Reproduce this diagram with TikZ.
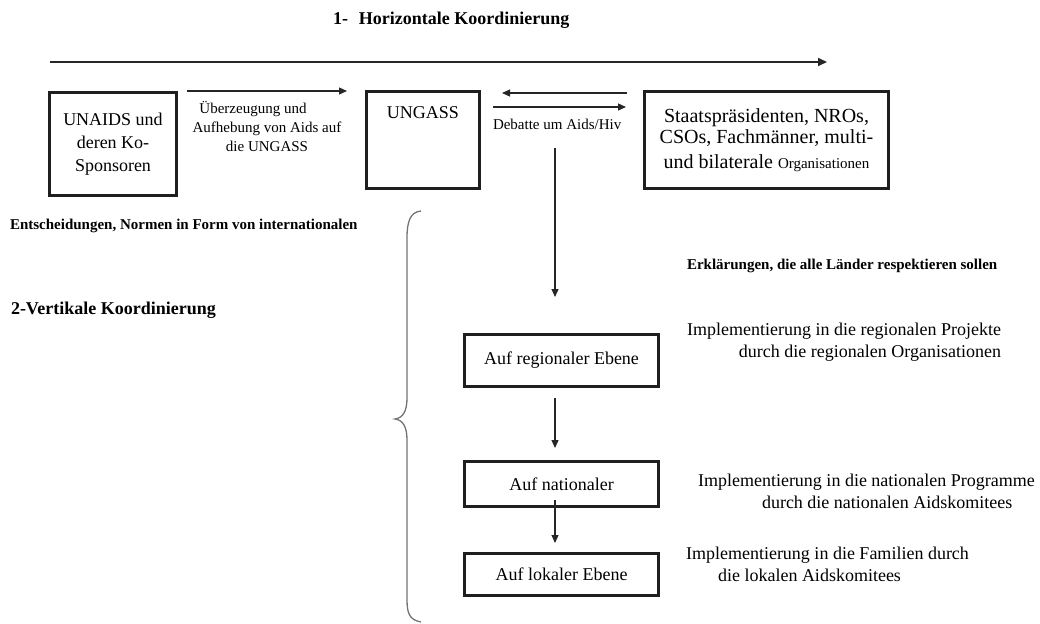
\documentclass[tikz,border=0pt]{standalone}
\usepackage{fontspec}
\setmainfont{Liberation Serif}
\usetikzlibrary{arrows.meta}
\begin{document}
\begin{tikzpicture}[x=1pt,y=-1pt,
  box/.style={draw=black!88, line width=3.7pt, inner sep=0pt, outer sep=0pt, align=center,
    font=\fontsize{18}{23}\selectfont},
  lbox/.style={draw=black!88, line width=3.4pt, inner sep=0pt, outer sep=0pt,
    minimum width=194pt, font=\fontsize{18}{22}\selectfont},
  arr/.style={-{Triangle[length=8pt,width=7pt]}, line width=1.2pt, draw=black!85},
  bigarr/.style={-{Triangle[length=9pt,width=8pt]}, line width=1.6pt, draw=black!85},
  txt/.style={inner sep=0pt, outer sep=0pt, font=\fontsize{18}{22}\selectfont},
  smalltxt/.style={inner sep=0pt, outer sep=0pt, font=\fontsize{15}{19}\selectfont},
  head/.style={inner sep=0pt, outer sep=0pt, font=\bfseries\fontsize{18}{22}\selectfont},
  subhead/.style={inner sep=0pt, outer sep=0pt, font=\bfseries\fontsize{15}{19}\selectfont},
  brace/.style={draw=black!55, line width=1.3pt}
]
\useasboundingbox (0,0) rectangle (1040,623);

% title and long arrow
\node[head, anchor=west] (title) at (333,20) {1-\hspace{0.6em}Horizontale Koordinierung};
\coordinate (lstart) at (50,62);
\coordinate (lend) at (827,62);
\draw[bigarr] (lstart) -- (lend);

% top boxes
\node[box, minimum width=127pt, minimum height=103pt] (una) at (113,144) {UNAIDS und\\deren Ko-\\Sponsoren};
\node[box, minimum width=113pt, minimum height=97pt,
  label={[anchor=north, yshift=-15pt, inner sep=0pt, font=\fontsize{18}{22}\selectfont]north:UNGASS}] (ung) at (423,140) {};
\node[box, minimum width=244pt, minimum height=97pt, font=\fontsize{20}{21}\selectfont] (sta) at (766.5,140)
  {Staatspräsidenten, NROs,\\CSOs, Fachmänner, multi-\\[4pt]und bilaterale {\fontsize{15}{16}\selectfont Organisationen}};

% arrows between top boxes
\draw[arr] ([shift={(10.5,-1.5)}]una.north east) -- ([shift={(-19.5,-0.5)}]ung.north west);
\node[smalltxt, align=center] (ueb) at (267,126) {Überzeugung und\hspace*{28pt}\\Aufhebung von Aids auf\\die UNGASS};
\draw[arr] ([shift={(-17.5,1.5)}]sta.north west) -- ([shift={(22.5,1.5)}]ung.north east);
\draw[arr] ([shift={(13.5,15.5)}]ung.north east) -- ([shift={(-18.5,15.5)}]sta.north west);
\node[smalltxt, anchor=west] (deb) at (493,124) {Debatte um Aids/Hiv};

% vertical arrow
\coordinate (vtop) at (555,148);
\coordinate (vend) at (555,297);
\draw[arr] (vtop) -- (vend);

% side texts
\node[subhead, anchor=west] (ents) at (10,226) {Entscheidungen, Normen in Form von internationalen};
\node[subhead, anchor=west] (erkl) at (687,266) {Erklärungen, die alle Länder respektieren sollen};
\node[head, anchor=west] (vert) at (11,310) {2-Vertikale Koordinierung};

% brace
\draw[brace] (421,211) .. controls (410,212) and (407,222) .. (407,238) -- (407,398)
  .. controls (407,411) and (403,418) .. (395,419)
  .. controls (403,420) and (407,427) .. (407,440) -- (407,600)
  .. controls (407,614) and (410,620) .. (421,622);

% lower boxes
\node[lbox, minimum height=52pt] (reg) at (561.5,360.5) {Auf regionaler Ebene};
\node[lbox, minimum height=45pt] (nat) at (561.5,484) {Auf nationaler};
\node[lbox, minimum height=42pt] (lok) at (561.5,574.5) {Auf lokaler Ebene};

\draw[arr] ([shift={(-6.5,11.5)}]reg.south) -- ([shift={(-6.5,-13.5)}]nat.north);
\draw[arr] ([shift={(-6.5,-6.5)}]nat.south) -- ([shift={(-6.5,-10.5)}]lok.north);

% implementation texts
\node[txt, align=right, anchor=east] (impreg) at (1001,342)
  {Implementierung in die regionalen Projekte\\durch die regionalen Organisationen};
\node[txt, align=left, anchor=west] (impnat) at (698,491)
  {Implementierung in die nationalen Programme\\\hspace*{64pt}durch die nationalen Aidskomitees};
\node[txt, align=left, anchor=west] (implok) at (686,564)
  {Implementierung in die Familien durch\\\hspace*{32pt}die lokalen Aidskomitees};
\end{tikzpicture}
\end{document}
